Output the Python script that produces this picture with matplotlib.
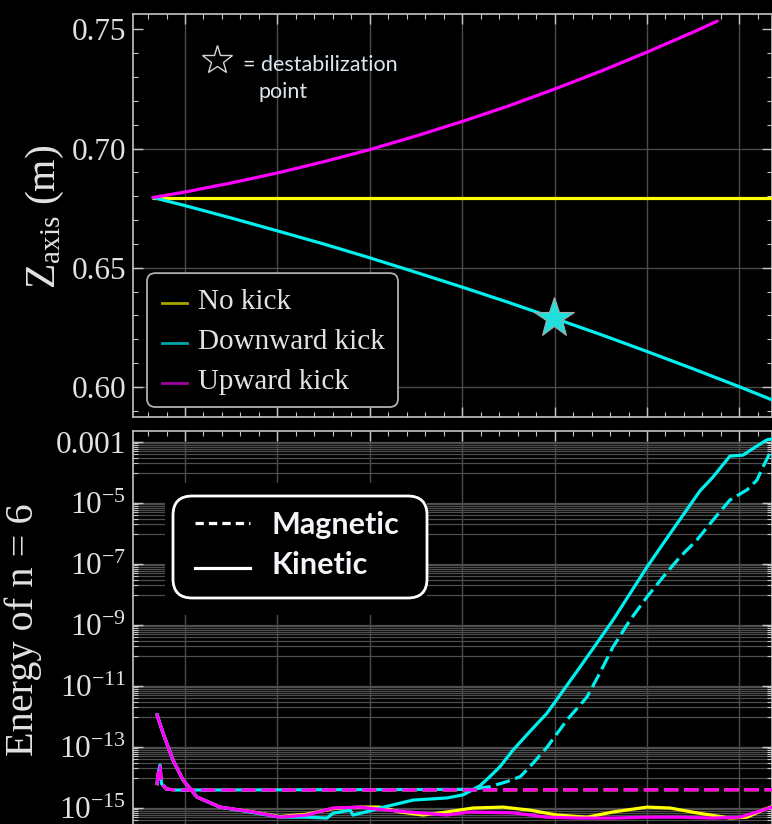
import matplotlib
matplotlib.use("Agg")
import matplotlib.pyplot as plt
from matplotlib.patches import FancyBboxPatch, Rectangle
from matplotlib.lines import Line2D
from matplotlib.ticker import MultipleLocator, FixedLocator, FormatStrFormatter, NullFormatter

plt.rcParams.update({
    "font.family": ["Liberation Serif", "DejaVu Serif"],
    "mathtext.fontset": "custom",
    "mathtext.rm": "Liberation Serif",
    "mathtext.it": "Liberation Serif:italic",
    "mathtext.bf": "Liberation Serif:bold",
    "axes.unicode_minus": True,
})

# ---------------- vertical position of the magnetic axis ----------------
t_up = [0.654, 1.0, 1.5, 2.0, 2.5, 3.0, 3.5, 4.0, 4.5, 5.0, 5.5, 6.0, 6.5, 6.76]
z_up = [0.6795, 0.6818, 0.6856, 0.6898, 0.6945, 0.6996, 0.7053, 0.7114, 0.7179,
        0.7250, 0.7325, 0.7405, 0.7489, 0.7535]

t_down = [0.654, 1.0, 1.5, 2.0, 2.5, 3.0, 3.5, 4.0, 4.5, 5.0, 5.5, 6.0, 6.5, 7.0, 7.353]
z_down = [0.6795, 0.6761, 0.6709, 0.6655, 0.6600, 0.6542, 0.6481, 0.6419, 0.6355,
          0.6288, 0.6220, 0.6149, 0.6076, 0.6001, 0.5946]

t_none = [0.654, 7.353]
z_none = [0.6795, 0.6795]

t_star = 4.99
z_star = 0.6289

# ---------------- n = 6 energies (log10 values) ----------------
# magnetic energy, no kick / upward kick (flat after the initial transient)
t_mag_flat = [0.697, 0.708, 0.729, 0.745, 0.80, 0.90, 7.353]
e_mag_flat = [-14.25, -13.9, -13.6, -14.2, -14.38, -14.41, -14.40]

# magnetic energy, downward kick
t_mag_down = [0.697, 0.708, 0.729, 0.745, 0.80, 0.90, 4.10, 4.30, 4.48, 4.63, 4.77, 4.92,
              5.135, 5.351, 5.49, 5.632, 5.816, 6.0, 6.173, 6.357, 6.541, 6.714,
              6.898, 7.082, 7.19, 7.255, 7.33, 7.353]
e_mag_down = [-14.25, -13.9, -13.6, -14.2, -14.38, -14.41, -14.39, -14.30, -14.14, -13.97, -13.52,
              -13.0, -12.11, -11.36, -10.57, -9.72, -8.84, -8.08, -7.43, -6.77, -6.21, -5.56,
              -4.90, -4.57, -4.25, -3.82, -3.36, -3.30]

# kinetic energy, downward kick
t_kin_down = [0.697, 0.762, 0.870, 0.978, 1.130, 1.379, 1.736, 2.028, 2.32, 2.537, 2.602,
              2.786, 2.818, 3.035, 3.11, 3.468, 3.835, 4.009, 4.193, 4.30, 4.41, 4.55,
              4.73, 4.918, 5.275, 5.632, 6.0, 6.216, 6.574, 6.714, 6.898, 7.039, 7.19,
              7.299, 7.353]
e_kin_down = [-11.95, -12.54, -13.43, -14.08, -14.64, -14.97, -15.15, -15.3, -15.3, -15.33, -15.17,
              -15.07, -15.23, -15.07, -15.0, -14.74, -14.67, -14.57, -14.27, -13.97, -13.64, -13.1,
              -12.5, -11.89, -10.38, -8.84, -7.1, -6.15, -4.6, -4.15, -3.46, -3.43, -3.13,
              -2.93, -2.90]

# kinetic energy, upward kick
t_kin_up = [0.697, 0.762, 0.870, 0.978, 1.130, 1.379, 1.736, 2.028, 2.32, 2.602, 2.894,
            3.186, 3.543, 3.835, 4.084, 4.550, 4.918, 5.275, 5.632, 6.0, 6.357, 6.714,
            7.006, 7.255, 7.353]
e_kin_up = [-11.95, -12.54, -13.43, -14.08, -14.64, -14.97, -15.13, -15.3, -15.23, -15.0, -14.97,
            -15.07, -15.16, -15.23, -15.13, -15.16, -15.3, -15.33, -15.33, -15.3, -15.3, -15.33,
            -15.3, -15.07, -14.97]

# kinetic energy, no kick
t_kin_none = [0.697, 0.762, 0.870, 0.978, 1.130, 1.379, 1.736, 2.028, 2.32, 2.602, 2.894,
              3.11, 3.327, 3.576, 3.835, 4.117, 4.442, 4.734, 5.026, 5.351, 5.632, 6.0,
              6.249, 6.541, 6.898, 7.082, 7.255, 7.353]
e_kin_none = [-11.95, -12.54, -13.43, -14.08, -14.64, -14.97, -15.13, -15.28, -15.2, -15.02, -14.97,
              -14.97, -15.13, -15.23, -15.13, -15.0, -14.97, -15.07, -15.23, -15.3, -15.13, -14.97,
              -15.0, -15.16, -15.33, -15.3, -15.07, -14.95]

series_names = ["No kick", "Downward kick", "Upward kick"]
energy_names = ["Magnetic", "Kinetic"]
z_ticks = [0.60, 0.65, 0.70, 0.75]
z_grid = [0.60, 0.65, 0.70]
e_tick_exp = [-3, -5, -7, -9, -11, -13, -15]
e_tick_labels = ["0.001", r"$10^{-5}$", r"$10^{-7}$", r"$10^{-9}$",
                 r"$10^{-11}$", r"$10^{-13}$", r"$10^{-15}$"]

YEL, CYA, MAG = "#ffff00", "#00f0f0", "#ff00ff"
SPINE = "#c4c4c4"
GRID = "#4a4a4a"
TXT = "#e2e2e2"

W, H = 772, 824
fig = plt.figure(figsize=(W / 100, H / 100), dpi=100, facecolor="black")


def px_axes(left, top, right, bottom):
    return [left / W, 1 - bottom / H, (right - left) / W, (bottom - top) / H]


ax1 = fig.add_axes(px_axes(133, 14, 772, 417))
ax2 = fig.add_axes(px_axes(133, 431, 772, 834))

for ax in (ax1, ax2):
    ax.set_facecolor("black")
    for s in ax.spines.values():
        s.set_color(SPINE)
        s.set_linewidth(1.2)
    ax.set_xlim(0.437, 7.353)
    ax.xaxis.set_major_locator(MultipleLocator(1))
    ax.xaxis.set_minor_locator(MultipleLocator(0.2))
    ax.tick_params(which="both", direction="in", top=True, right=True, colors=SPINE,
                   labelcolor=TXT, labelsize=22.5, labelbottom=False, pad=5)
    ax.tick_params(which="major", length=7, width=1.0)
    ax.tick_params(which="minor", length=3.5, width=0.8)
    ax.grid(axis="x", which="major", color=GRID, lw=1.0, zorder=0)

# ---------------- top panel ----------------
ax1.set_ylim(0.5874, 0.7565)
ax1.yaxis.set_major_locator(FixedLocator(z_ticks))
ax1.yaxis.set_major_formatter(FormatStrFormatter("%.2f"))
ax1.yaxis.set_minor_locator(MultipleLocator(0.01))
for zg in z_grid:
    ax1.axhline(zg, color=GRID, lw=1.0, zorder=0)

ax1.plot(t_none, z_none, color=YEL, lw=2.3, zorder=3, solid_capstyle="round")
ax1.plot(t_down, z_down, color=CYA, lw=2.3, zorder=3, solid_capstyle="round")
ax1.plot(t_up, z_up, color=MAG, lw=2.3, zorder=4, solid_capstyle="round")
ax1.plot([t_star], [z_star], marker="*", ms=30, mfc="#1fe0dc", mec="#a8a8a8", mew=0.8, zorder=6)

ax1.set_ylabel(r"$\mathrm{Z}_{\mathrm{axis}}$ (m)", fontsize=30, color=TXT,
               rotation=90, va="center", ha="center")
ax1.yaxis.set_label_coords(-0.1377, 0.496)

# star annotation
ax1.plot([0.1315], [0.886], transform=ax1.transAxes, marker="*", ms=22, mfc="none",
         mec="#d6d6d6", mew=1.0, zorder=6)
sans = ["Lato", "DejaVu Sans"]
ax1.text(0.172, 0.873, "= destabilization", transform=ax1.transAxes, family=sans,
         fontsize=15.5, color="#dde6ef", va="center", ha="left")
ax1.text(0.196, 0.806, "point", transform=ax1.transAxes, family=sans,
         fontsize=15.5, color="#dde6ef", va="center", ha="left")

# legend of the top panel
aspect1 = (639 / W * fig.get_figwidth()) / (403 / H * fig.get_figheight())
ax1.add_patch(FancyBboxPatch((0.0219, 0.0248), 0.3928, 0.3322,
                             boxstyle="round,pad=0,rounding_size=0.013",
                             mutation_aspect=aspect1, transform=ax1.transAxes,
                             fc="black", ec="#b0b0b0", lw=1.3, zorder=7))
leg_cols = ["#a6a600", "#00a8a8", "#a000a0"]
leg_line_y = [0.2829, 0.1836, 0.0844]
leg_text_y = [0.268, 0.169, 0.0695]
for name, c, ly, ty in zip(series_names, leg_cols, leg_line_y, leg_text_y):
    ax1.add_line(Line2D([0.0454, 0.0845], [ly, ly], transform=ax1.transAxes,
                        color=c, lw=2.0, zorder=8))
    ax1.text(0.1017, ty, name, transform=ax1.transAxes, fontsize=21, color=TXT,
             va="baseline", ha="left", zorder=8)

# ---------------- bottom panel ----------------
ax2.set_yscale("log")
ax2.set_ylim(10 ** -15.852, 10 ** -2.639)
ax2.yaxis.set_major_locator(FixedLocator([10.0 ** e for e in e_tick_exp]))
ax2.set_yticklabels(e_tick_labels)
band = [k * 10.0 ** (e - 1) for e in e_tick_exp for k in range(1, 10)]
ax2.yaxis.set_minor_locator(FixedLocator(band))
ax2.yaxis.set_minor_formatter(NullFormatter())
for e in e_tick_exp:
    for k in range(1, 11):
        ax2.axhline(k * 10.0 ** (e - 1), color="#4e4e4e", lw=0.9, zorder=0)

dash = (4.5, 1.8)
p10 = lambda vals: [10.0 ** v for v in vals]
ax2.plot(t_mag_flat, p10(e_mag_flat), color=YEL, lw=2.3, ls=(0, dash), zorder=3)
ax2.plot(t_mag_down, p10(e_mag_down), color=CYA, lw=2.3, ls=(2, dash), zorder=3)
ax2.plot(t_mag_flat, p10(e_mag_flat), color=MAG, lw=2.3, ls=(0, dash), zorder=4)
ax2.plot(t_kin_none, p10(e_kin_none), color=YEL, lw=2.3, zorder=3)
ax2.plot(t_kin_down, p10(e_kin_down), color=CYA, lw=2.3, zorder=3)
ax2.plot(t_kin_up, p10(e_kin_up), color=MAG, lw=2.3, zorder=4)

ax2.set_ylabel("Energy of n = 6", fontsize=29, color=TXT, rotation=90,
               va="center", ha="center")
ax2.yaxis.set_label_coords(-0.172, 0.506)

# legend of the bottom panel
ax2.add_patch(Rectangle((0.050, 0.543), 0.410, 0.328, transform=ax2.transAxes,
                        fc="black", ec="none", zorder=6))
ax2.add_patch(FancyBboxPatch((0.0626, 0.5856), 0.3975, 0.2531,
                             boxstyle="round,pad=0,rounding_size=0.03",
                             mutation_aspect=aspect1, transform=ax2.transAxes,
                             fc="black", ec="white", lw=2.0, zorder=7))
ax2.add_line(Line2D([0.097, 0.183], [0.772, 0.772], transform=ax2.transAxes,
                    color="white", lw=2.3, ls=(0, (2.6, 1.6)), zorder=8))
ax2.add_line(Line2D([0.097, 0.183], [0.660, 0.660], transform=ax2.transAxes,
                    color="white", lw=2.3, zorder=8))
ax2.text(0.2175, 0.767, energy_names[0], transform=ax2.transAxes, family=sans,
         fontweight="bold", fontsize=22, color="#f2f4f8", va="center", ha="left", zorder=8)
ax2.text(0.2175, 0.6675, energy_names[1], transform=ax2.transAxes, family=sans,
         fontweight="bold", fontsize=22, color="#f2f4f8", va="center", ha="left", zorder=8)

fig.savefig("out.png", dpi=100, facecolor="black")
